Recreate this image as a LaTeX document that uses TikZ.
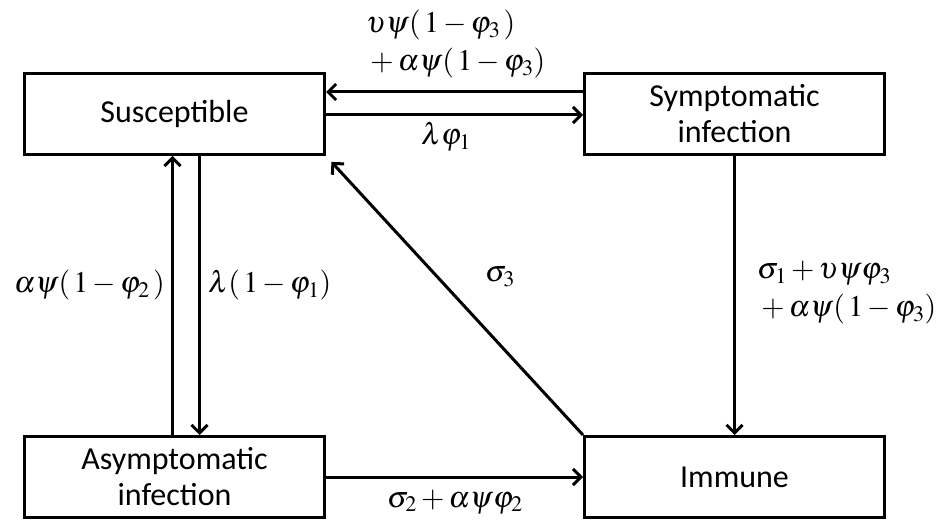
\documentclass[tikz,border=0pt]{standalone}
\usepackage{mathptmx}
\usepackage[no-math]{fontspec}
\setmainfont{Carlito}
\usepackage{tikz}
\usetikzlibrary{arrows.meta, positioning}

\begin{document}
\begin{tikzpicture}[x=1pt, y=-1pt, node distance=1cm,
			box/.style={draw, rectangle, align=center, line width=3pt, inner sep=0pt,
				minimum width=300pt, minimum height=81pt, font=\fontsize{32}{36}\selectfont},
			rate/.style={inner sep=0pt, font=\fontsize{30}{38}\selectfont},
			arrow/.style={-{Straight Barb[length=8pt, width=16pt]}, line width=3pt}]
			
			\useasboundingbox (0,0) rectangle (940,521);
			
			% 方框
			\node[box] (sus) at (174.5,114) {Susceptible};
			\node[box, right=257pt of sus] (symp) {Symptomatic\\infection};
			\node[box, below=279pt of sus] (asym) {Asymptomatic\\infection};
			\node[box, below=279pt of symp] (imm) {Immune};
			
			% 箭头
			\draw[arrow] ([yshift=22pt]symp.west) -- ([yshift=22pt]sus.east);
			\draw[arrow] ([yshift=-1pt]sus.east) -- ([yshift=-1pt]symp.west);
			\draw[arrow] ([xshift=-2pt]asym.north) -- ([xshift=-2pt]sus.south);
			\draw[arrow] ([xshift=25pt]sus.south) -- ([xshift=25pt]asym.north);
			\draw[arrow, shorten >=8pt] (imm.north west) -- (sus.south east);
			\draw[arrow] (symp.south) -- (imm.north);
			\draw[arrow] (asym.east) -- (imm.west);
			
			% 转移率
			\node[rate, anchor=west, align=left] (rtop) at (366,44)
				{$\upsilon\psi(\,1-\varphi_3\,)$\\${}+\alpha\psi(\,1-\varphi_3)$};
			\node[rate] (rlam) at (446,137) {$\lambda\varphi_1$};
			\node[rate, anchor=east] (rup) at (165,285) {$\alpha\psi(\,1-\varphi_2\,)$};
			\node[rate, anchor=west] (rdown) at (208,285) {$\lambda(\,1-\varphi_1)$};
			\node[rate] (rsig) at (500,277) {$\sigma_3$};
			\node[rate, anchor=west, align=left] (rright) at (757,293)
				{$\sigma_1+\upsilon\psi\varphi_3$\\${}+\alpha\psi(\,1-\varphi_3)$};
			\node[rate] (rbot) at (455,502) {$\sigma_2+\alpha\psi\varphi_2$};
			
		\end{tikzpicture}
\end{document}
